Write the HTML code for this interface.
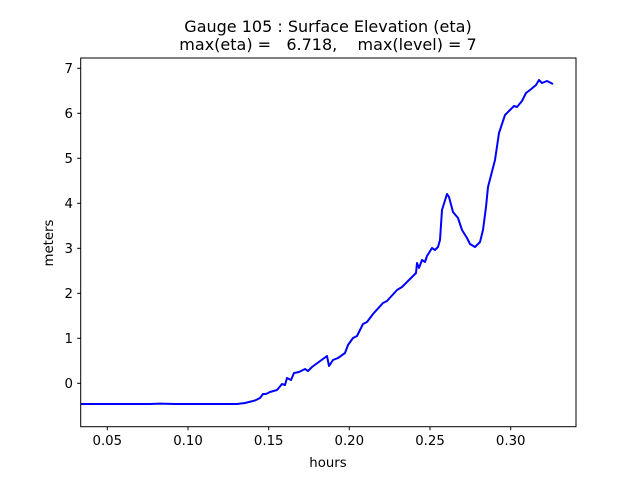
<!DOCTYPE html>
<html><head><style>
body{margin:0;background:#fff;}
svg text{font-family:"DejaVu Sans","Liberation Sans",sans-serif;fill:#000;}
</style></head><body>
<svg width="640" height="480" viewBox="0 0 640 480" xmlns="http://www.w3.org/2000/svg">
<rect width="640" height="480" fill="#fff"/>
<text x="328" y="32" font-size="16" text-anchor="middle">Gauge 105 : Surface Elevation (eta)</text>
<text x="328" y="50" font-size="16" text-anchor="middle" xml:space="preserve">max(eta) =   6.718,    max(level) = 7</text>
<polyline fill="none" stroke="#0000ff" stroke-width="2" stroke-linejoin="round" points="80.7,404 150,404 160,403.6 175,404 237,404 245,403 255,400.5 260,398 263,394 266,394 270,392 277,390 282,384 285,385 287,378 291,380 294,373 299,372 305,369 308,371 312,367 327,356 329,366 333,360 338,358 345,353 348,345 353,338 357,336 363,324 367,322 373,314 383,303 387,301 397,290 402,287 410,279 416,273 417,263 419,268 422,260 425,262 427,256 432,248 435,250 438,247 440,240 442,210 447,194 449,197 453,212 458,218 462,230 467,238 470,244 475,247 480,242 483,230 486,207 488,187 495,160 499,133 505,115 510,110 514,106 517,107 522,101 526,93 530,90 536,85 539,80 542,83 547,81 553,84"/>
<rect x="80.7" y="58" width="495.3" height="368.7" fill="none" stroke="#000" stroke-width="1"/>
<g stroke="#000" stroke-width="1">
<line x1="107.3" y1="426.7" x2="107.3" y2="430.2"/>
<line x1="188" y1="426.7" x2="188" y2="430.2"/>
<line x1="268.7" y1="426.7" x2="268.7" y2="430.2"/>
<line x1="349.3" y1="426.7" x2="349.3" y2="430.2"/>
<line x1="430" y1="426.7" x2="430" y2="430.2"/>
<line x1="510.7" y1="426.7" x2="510.7" y2="430.2"/>
<line x1="77.2" y1="383.3" x2="80.7" y2="383.3"/>
<line x1="77.2" y1="338.3" x2="80.7" y2="338.3"/>
<line x1="77.2" y1="293.3" x2="80.7" y2="293.3"/>
<line x1="77.2" y1="248.3" x2="80.7" y2="248.3"/>
<line x1="77.2" y1="203.3" x2="80.7" y2="203.3"/>
<line x1="77.2" y1="158.3" x2="80.7" y2="158.3"/>
<line x1="77.2" y1="113.3" x2="80.7" y2="113.3"/>
<line x1="77.2" y1="68.3" x2="80.7" y2="68.3"/>
</g>
<g font-size="13.3" text-anchor="middle">
<text x="107.3" y="445">0.05</text>
<text x="188" y="445">0.10</text>
<text x="268.7" y="445">0.15</text>
<text x="349.3" y="445">0.20</text>
<text x="430" y="445">0.25</text>
<text x="510.7" y="445">0.30</text>
</g>
<g font-size="13.3" text-anchor="end">
<text x="73" y="388">0</text>
<text x="73" y="343">1</text>
<text x="73" y="298">2</text>
<text x="73" y="253">3</text>
<text x="73" y="208">4</text>
<text x="73" y="163">5</text>
<text x="73" y="118">6</text>
<text x="73" y="73">7</text>
</g>
<text x="328" y="467" font-size="13.3" text-anchor="middle">hours</text>
<text x="0" y="0" font-size="13.3" text-anchor="middle" transform="translate(53,243) rotate(-90)">meters</text>
</svg>
</body></html>
